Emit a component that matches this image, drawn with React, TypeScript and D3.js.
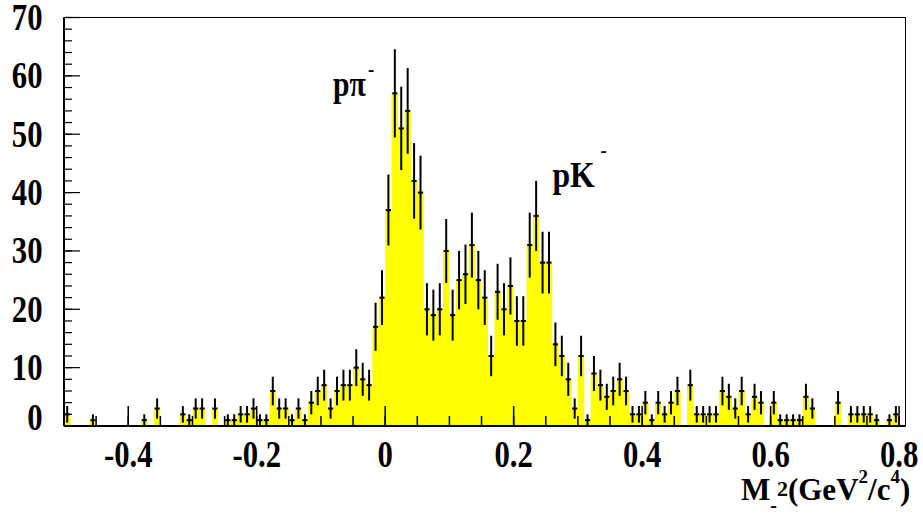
import React from 'react';
import * as d3 from 'd3';

// Histogram: bins of width 0.01 starting at -0.5
const BIN_START = -0.5;
const BIN_WIDTH = 0.01;
const counts = [
  2, 0, 0, 0, 1, 0, 0, 0, 0, 0,
  0, 0, 1, 0, 3, 0, 0, 0, 2, 1,
  3, 3, 0, 3, 0, 1, 1, 2, 2, 3,
  1, 1, 6, 3, 3, 1, 3, 1, 4, 6,
  7, 3, 6, 7, 7, 10, 8, 7, 17, 22,
  37, 57, 51, 54, 42, 40, 20, 19, 20, 30,
  19, 25, 26, 31, 25, 22, 12, 23, 20, 24,
  18, 18, 31, 36, 28, 28, 14, 12, 8, 3,
  12, 1, 9, 7, 5, 6, 8, 6, 2, 2,
  4, 1, 4, 2, 4, 6, 0, 7, 2, 2,
  2, 2, 6, 5, 3, 6, 2, 5, 4, 0,
  4, 1, 1, 1, 1, 5, 3, 0, 0, 0,
  4, 0, 2, 2, 2, 2, 1, 0, 1, 2,
  0,
];

const xTickValues = [-0.4, -0.2, 0, 0.2, 0.4, 0.6, 0.8];
const xTickLabels = ['-0.4', '-0.2', '0', '0.2', '0.4', '0.6', '0.8'];
const yTickValues = [0, 10, 20, 30, 40, 50, 60, 70];
const yTickLabels = ['0', '10', '20', '30', '40', '50', '60', '70'];

const FONT = '"Liberation Serif", "Times New Roman", serif';

export default function App() {
  const W = 923, H = 522;
  const x = d3.scaleLinear().domain([-0.5, 0.81]).range([64, 905.5]);
  const y = d3.scaleLinear().domain([0, 70]).range([426, 17.5]);

  const pts = counts.map((c, i) => ({ x: BIN_START + i * BIN_WIDTH, c }));
  pts.push({ x: BIN_START + counts.length * BIN_WIDTH, c: counts[counts.length - 1] });
  const area = d3
    .area<{ x: number; c: number }>()
    .x((d) => x(d.x))
    .y0(y(0))
    .y1((d) => y(d.c))
    .curve(d3.curveStepAfter);

  const minorX = d3.range(-0.45, 0.81, 0.05).map((v) => Math.round(v * 100) / 100);
  const minorY = d3.range(0, 71, 2);

  const sx = 0.83;

  return (
    <svg
      width={W}
      height={H}
      style={{ position: 'absolute', left: 0, top: 0, background: '#fff' }}
    >
      <rect x={0} y={0} width={W} height={H} fill="#fff" />
      <path d={area(pts) || ''} fill="#ffff00" stroke="none" />

      {/* ticks */}
      {minorX.map((v, i) => (
        <line key={'mx' + i} x1={x(v)} x2={x(v)} y1={426} y2={416} stroke="#000" strokeWidth={1.5} />
      ))}
      {xTickValues.map((v, i) => (
        <line key={'Mx' + i} x1={x(v)} x2={x(v)} y1={426} y2={406} stroke="#000" strokeWidth={1.5} />
      ))}
      {minorY.map((v, i) => (
        <line key={'my' + i} x1={64} x2={72} y1={y(v)} y2={y(v)} stroke="#000" strokeWidth={1.2} />
      ))}
      {yTickValues.map((v, i) => (
        <line key={'My' + i} x1={64} x2={80} y1={y(v)} y2={y(v)} stroke="#000" strokeWidth={1.2} />
      ))}

      {/* error bars */}
      {counts.map((c, i) => {
        if (c <= 0) return null;
        const cx = x(BIN_START + (i + 0.5) * BIN_WIDTH);
        const e = Math.sqrt(c);
        return (
          <g key={'e' + i} stroke="#000" strokeWidth={2}>
            <line x1={cx} x2={cx} y1={y(Math.max(0, c - e))} y2={y(c + e)} />
            <line x1={cx - 2.6} x2={cx + 2.6} y1={y(c)} y2={y(c)} />
          </g>
        );
      })}

      {/* frame */}
      <rect x={64} y={17.5} width={905.5 - 64} height={426 - 17.5} fill="none" stroke="#000" strokeWidth={1} />
      <line x1={64} x2={64} y1={17.5} y2={426} stroke="#000" strokeWidth={2} />
      <line x1={64} x2={905.5} y1={426} y2={426} stroke="#000" strokeWidth={2} />

      {/* tick labels */}
      {xTickValues.map((v, i) => (
        <text
          key={'xl' + i}
          transform={`translate(${x(v)},466.5) scale(${sx},1)`}
          textAnchor="middle"
          fontFamily={FONT}
          fontWeight="bold"
          fontSize={37}
        >
          {xTickLabels[i]}
        </text>
      ))}
      {yTickValues.map((v, i) => (
        <text
          key={'yl' + i}
          transform={`translate(42.5,${y(v) + 12.5 - (v === 0 ? 9 : 0)}) scale(${sx},1)`}
          textAnchor="end"
          fontFamily={FONT}
          fontWeight="bold"
          fontSize={37}
        >
          {yTickLabels[i]}
        </text>
      ))}

      {/* peak labels */}
      <g fontFamily={FONT} fontWeight="bold">
        <text transform={`translate(333,95.5) scale(0.85,1)`} fontSize={35}>pπ</text>
        <text transform={`translate(368,76) scale(0.85,1)`} fontSize={22}>-</text>
        <text transform={`translate(552.5,187.3) scale(0.88,1)`} fontSize={36}>pK</text>
        <text transform={`translate(600.5,157) scale(0.85,1)`} fontSize={22}>-</text>
      </g>

      {/* axis title */}
      <text x={741} y={500} fontFamily={FONT} fontWeight="bold" fontSize={31}>
        M
        <tspan dy={12} fontSize={20}>-</tspan>
        <tspan dy={-16} fontSize={22}>2</tspan>
        <tspan dy={4} fontSize={31}>(GeV</tspan>
        <tspan dy={-17} fontSize={19}>2</tspan>
        <tspan dy={17} fontSize={31}>/c</tspan>
        <tspan dy={-17} fontSize={19}>4</tspan>
        <tspan dy={17} fontSize={31}>)</tspan>
      </text>
    </svg>
  );
}
